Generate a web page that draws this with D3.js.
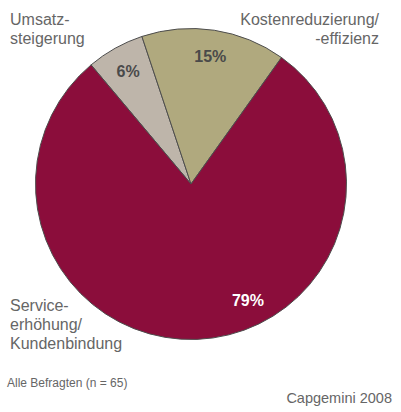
<!DOCTYPE html>
<html>
<head>
<meta charset="utf-8">
<script src="https://cdn.jsdelivr.net/npm/d3@7"></script>
<style>
  html, body { margin: 0; padding: 0; background: #fff; }
  svg { display: block; font-family: "Liberation Sans", Arial, Helvetica, sans-serif; }
</style>
</head>
<body>
<svg id="chart" width="401" height="412"></svg>
<script>
const categories = ["Umsatzsteigerung", "Kostenreduzierung/-effizienz", "Serviceerhöhung/Kundenbindung"];
const values = [6, 15, 79];
const valueLabels = ["6%", "15%", "79%"];
const colors = ["#BEB5AA", "#B0A97E", "#8B0D3B"];
const labelColors = ["#4a4a4a", "#4a4a4a", "#ffffff"];
const categoryLines = [["Umsatz-", "steigerung"], ["Kostenreduzierung/", "-effizienz"], ["Service-", "erhöhung/", "Kundenbindung"]];
const footnote = "Alle Befragten (n = 65)";
const source = "Capgemini 2008";

const svg = d3.select("#chart");
const cx = 191, cy = 184, R = 155.5;
const startDeg = -40;

const pie = d3.pie().sort(null).value(d => d)
  .startAngle(startDeg * Math.PI / 180)
  .endAngle((startDeg + 360) * Math.PI / 180);
const arcs = pie(values);
const arc = d3.arc().innerRadius(0).outerRadius(R);

const g = svg.append("g").attr("transform", `translate(${cx},${cy})`);
g.selectAll("path.slice").data(arcs).enter().append("path")
  .attr("class", "slice")
  .attr("d", arc)
  .attr("fill", (d, i) => colors[i])
  .attr("stroke", "#4d4d4d")
  .attr("stroke-width", 1)
  .attr("stroke-linejoin", "round");

// percentage labels
const labelR = 129;
const labelAngleShift = [0, 0, -24]; // degrees shift from mid angle
g.selectAll("text.pct").data(arcs).enter().append("text")
  .attr("class", "pct")
  .attr("transform", (d, i) => {
    const a = (d.startAngle + d.endAngle) / 2 + labelAngleShift[i] * Math.PI / 180;
    return `translate(${labelR * Math.sin(a)},${-labelR * Math.cos(a)})`;
  })
  .attr("text-anchor", "middle")
  .attr("dy", "0.36em")
  .attr("font-size", 16)
  .attr("font-weight", "bold")
  .attr("fill", (d, i) => labelColors[i])
  .text((d, i) => valueLabels[i]);

// category labels
const catPos = [
  { x: 10, y: 25, anchor: "start" },
  { x: 379, y: 25, anchor: "end" },
  { x: 10, y: 311, anchor: "start" }
];
const lineH = 19;
categoryLines.forEach((lines, i) => {
  const t = svg.append("text")
    .attr("x", catPos[i].x).attr("y", catPos[i].y)
    .attr("text-anchor", catPos[i].anchor)
    .attr("font-size", 16)
    .attr("fill", "#666666");
  lines.forEach((ln, j) => {
    t.append("tspan").attr("x", catPos[i].x).attr("y", catPos[i].y + j * lineH).text(ln);
  });
});

svg.append("text").attr("x", 7).attr("y", 387)
  .attr("font-size", 12).attr("fill", "#666666").text(footnote);
svg.append("text").attr("x", 392).attr("y", 403).attr("text-anchor", "end")
  .attr("font-size", 14.5).attr("fill", "#666666").text(source);
</script>
</body>
</html>
